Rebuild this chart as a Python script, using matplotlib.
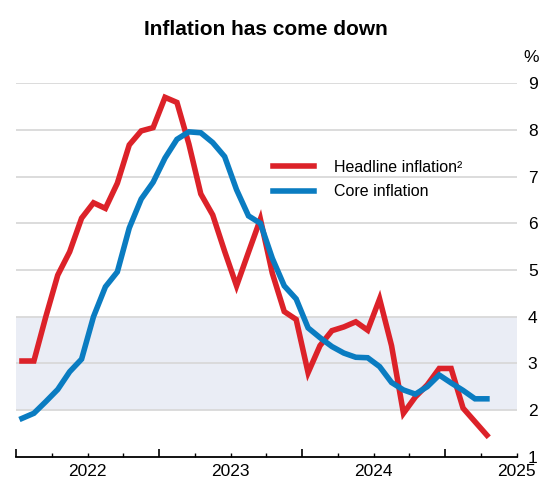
import matplotlib
matplotlib.use("Agg")
import matplotlib.pyplot as plt
import numpy as np

plt.rcParams["font.family"] = ["Liberation Sans", "DejaVu Sans"]

# monthly observations, Jan 2022 onwards (x = months since Jan 2022, mid-month)
headline = [3.05, 3.05, 4.0, 4.89, 5.39, 6.11, 6.44, 6.32, 6.86, 7.68,
            7.98, 8.05, 8.70, 8.59, 7.70, 6.63, 6.18, 5.40, 4.66, 5.38,
            6.09, 4.93, 4.11, 3.94, 2.80, 3.38, 3.70, 3.78, 3.89, 3.71,
            4.38, 3.38, 1.93, 2.28, 2.54, 2.89, 2.89, 2.04, 1.75, 1.46]
core = [1.82, 1.93, 2.18, 2.44, 2.82, 3.09, 4.00, 4.64, 4.96, 5.90,
        6.52, 6.88, 7.40, 7.80, 7.96, 7.94, 7.73, 7.43, 6.72, 6.16,
        6.00, 5.25, 4.66, 4.38, 3.76, 3.55, 3.36, 3.22, 3.13, 3.12,
        2.93, 2.59, 2.43, 2.34, 2.50, 2.75, 2.58, 2.42, 2.24, 2.24]
years = ["2022", "2023", "2024", "2025"]
yticks = [1, 2, 3, 4, 5, 6, 7, 8, 9]
target_band = (2, 4)

RED = "#dc2229"
BLUE = "#0a7cc1"

x = np.arange(len(headline)) + 0.5

fig = plt.figure(figsize=(5.41, 4.78), dpi=100)
ax = fig.add_axes([0.0296, 0.0446, 0.9255, 0.7811])

ax.axhspan(*target_band, color="#eaedf5", zorder=0, lw=0)
for v in yticks[1:]:
    ax.axhline(v, color="#d9d9d9", lw=1.3, zorder=1)

ax.plot(x, headline, color=RED, lw=4, solid_joinstyle="miter", label="Headline inflation²", zorder=3)
ax.plot(x, core, color=BLUE, lw=4, solid_joinstyle="miter", label="Core inflation", zorder=3)

ax.set_xlim(0, 42)
ax.set_ylim(1, 9)
for s in ["left", "right", "top"]:
    ax.spines[s].set_visible(False)
ax.spines["bottom"].set_linewidth(1.3)

ax.set_xticks([0, 12, 24, 36])
ax.set_xticks(np.arange(0, 43, 3), minor=True)
ax.tick_params(axis="x", which="major", direction="in", length=6, width=1.2, labelbottom=False)
ax.tick_params(axis="x", which="minor", direction="in", length=3, width=1.0)
for i, yr in enumerate(years):
    ax.text(6 + 12 * i, -0.041, yr, transform=ax.get_xaxis_transform(),
            ha="center", va="center", fontsize=12.5)

ax.yaxis.tick_right()
ax.set_yticks(yticks)
ax.tick_params(axis="y", length=0, pad=8, labelsize=12.5)
ax.text(1.029, 1.07, "%", transform=ax.transAxes, ha="center", va="center", fontsize=12.5)

ax.set_title("Inflation has come down", fontsize=15, fontweight="bold", pad=35)

ax.legend(loc="upper left", bbox_to_anchor=(0.513, 0.795), frameon=False, fontsize=11.5,
          handlelength=2.6, handletextpad=1.2, labelspacing=0.6, borderpad=0, borderaxespad=0)

fig.savefig("out.png", dpi=100)
